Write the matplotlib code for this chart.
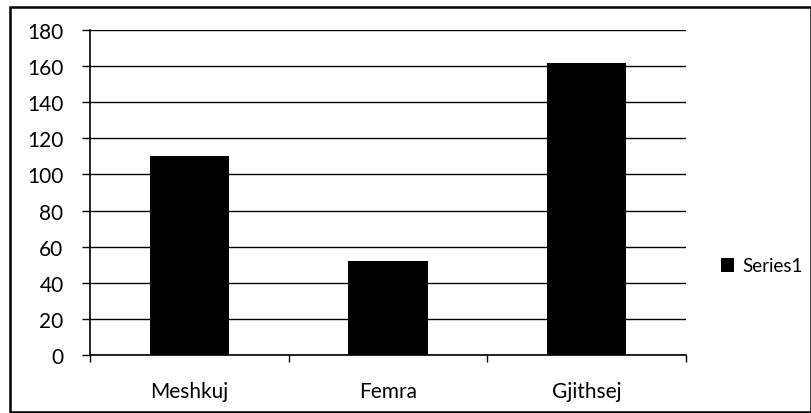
import matplotlib
matplotlib.use("Agg")
import matplotlib.pyplot as plt
from matplotlib.patches import Rectangle, Patch
import numpy as np

categories = ["Meshkuj", "Femra", "Gjithsej"]
values = [110, 52, 162]
series_name = "Series1"
yticks = [0, 20, 40, 60, 80, 100, 120, 140, 160, 180]

plt.rcParams['font.family'] = ['Lato', 'DejaVu Sans']
FS = 15

fig = plt.figure(figsize=(8.12, 4.14), dpi=100)
fig.patch.set_facecolor("white")
fig.patches.append(Rectangle((10/812, 1/414), 801/812, 405/414, transform=fig.transFigure,
                             fill=False, edgecolor="black", linewidth=1.8))

ax = fig.add_axes([90/812, 1-356/414, (686-90)/812, (356-31)/414])
x = np.arange(len(categories))
ax.bar(x, values, width=0.4, color="black", zorder=3, label=series_name)
ax.set_xlim(-0.5, len(categories)-0.5)
ax.set_ylim(0, 180)
ax.set_yticks(yticks)
ax.set_yticklabels([str(v) for v in yticks], fontsize=FS)
ax.yaxis.grid(True, color="black", linewidth=1.0, zorder=0)
ax.set_axisbelow(True)
ax.set_xticks(np.arange(-0.5, len(categories)), minor=False)
ax.set_xticklabels([""]*(len(categories)+1))
ax.set_xticks(x, minor=True)
ax.set_xticklabels(categories, minor=True, fontsize=FS)
ax.tick_params(axis="x", which="minor", length=0, pad=19)
ax.tick_params(axis="x", which="major", length=5, width=1, direction="out", color="black")
ax.tick_params(axis="y", length=6, width=1, direction="out", pad=13)
for s in ["top", "right"]:
    ax.spines[s].set_visible(False)
ax.spines["left"].set_linewidth(1.2)
ax.spines["bottom"].set_linewidth(1.2)

fig.legend(handles=[Patch(facecolor="black", label=series_name)], loc="center left",
           bbox_to_anchor=(704/812, 1-267/414), frameon=False, fontsize=13.5,
           handlelength=0.7, handleheight=0.7, handletextpad=0.45)

fig.savefig("out.png", dpi=100)
